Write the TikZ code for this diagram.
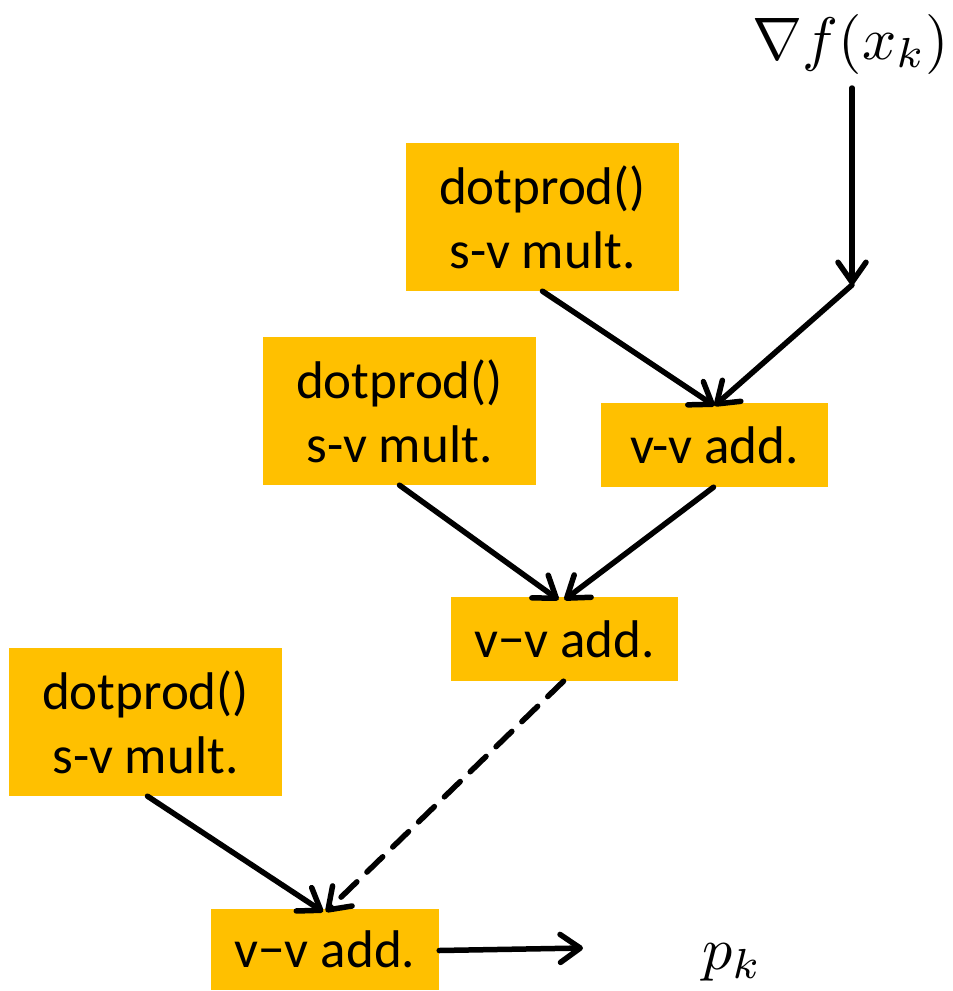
\documentclass[tikz,border=0pt]{standalone}
\usepackage{fontspec}
\setmainfont{Carlito}
\usetikzlibrary{arrows.meta}
\definecolor{gold}{HTML}{FFC000}
\begin{document}
\begin{tikzpicture}[x=1pt,y=-1pt,
  opbox/.style={fill=gold,draw=none,inner sep=0pt,align=center,font=\fontsize{53}{64}\selectfont},
  conn/.style={line width=5.5pt,line cap=round,line join=round,-{Straight Barb[length=20pt,width=28pt,line cap=round,line join=round]}},
  mathlbl/.style={inner sep=0pt,font=\fontsize{10}{12}\selectfont},
]
\useasboundingbox (0,0) rectangle (953,991);
\node[opbox,minimum width=273pt,minimum height=148pt] (A) at (542.5,217) {dotprod()\\s-v mult.};
\node[opbox,minimum width=273pt,minimum height=148pt] (B) at (399.5,411) {dotprod()\\s-v mult.};
\node[opbox,minimum width=273pt,minimum height=148pt] (C) at (145.5,722) {dotprod()\\s-v mult.};
\node[opbox,minimum width=227pt,minimum height=84pt] (D1) at (714.5,445) {v-v add.};
\node[opbox,minimum width=227pt,minimum height=84pt] (D2) at (564.5,639) {v\textminus v add.};
\node[opbox,minimum width=228pt,minimum height=81pt] (D3) at (325,949.5) {v\textminus v add.};
\node[mathlbl] (g) at (851,44) {\scalebox{6}{$\nabla f(x_k)$}};
\node[mathlbl] (p) at (732,962) {\scalebox{6}{$p_k$}};
\coordinate (gs) at (852,88);
\coordinate (corner) at (852,285);
\coordinate (out) at (583,948);
\draw[conn] (gs) -- (corner);
\draw[conn] (corner) -- ([yshift=-3pt]D1.north);
\draw[conn] (A.south) -- ([yshift=-3pt]D1.north);
\draw[conn] (B.south) -- ([xshift=-6pt,yshift=-3pt]D2.north);
\draw[conn] ([xshift=-1pt]D1.south) -- ([yshift=-3pt]D2.north);
\draw[conn,dash pattern=on 22pt off 14pt] ([xshift=-1pt]D2.south) -- ([xshift=1pt,yshift=-3pt]D3.north);
\draw[conn] ([xshift=2pt]C.south) -- ([xshift=-2pt,yshift=-3pt]D3.north);
\draw[conn] ([yshift=-1pt]D3.east) -- (out);
\end{tikzpicture}
\end{document}
